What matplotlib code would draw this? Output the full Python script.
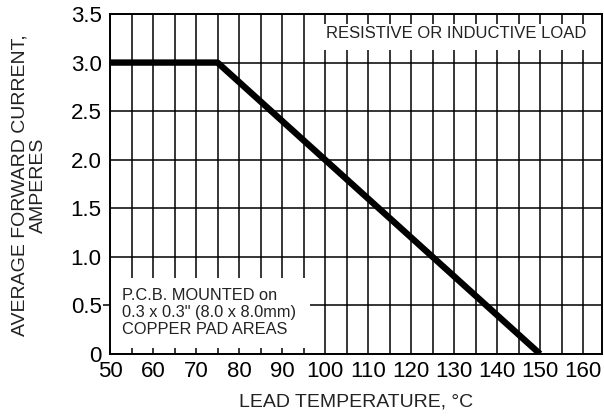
import matplotlib
matplotlib.use("Agg")
import matplotlib.pyplot as plt
from matplotlib.patches import Rectangle
from matplotlib.ticker import MultipleLocator, FixedLocator

plt.rcParams["font.family"] = ["Liberation Sans", "DejaVu Sans"]

# derating curve: lead temperature (°C) vs average forward current (A)
temp_c = [50, 75, 150]
current_a = [3.0, 3.0, 0.0]

x_ticks = [50, 60, 70, 80, 90, 100, 110, 120, 130, 140, 150, 160]
y_ticks = [0, 0.5, 1.0, 1.5, 2.0, 2.5, 3.0, 3.5]
y_tick_labels = ["0", "0.5", "1.0", "1.5", "2.0", "2.5", "3.0", "3.5"]
# the only tick mark drawn outside the frame in the original
y_outer_tick = [0.5]

fig = plt.figure(figsize=(6.04, 4.19), dpi=100)
ax = fig.add_axes([110 / 604, 65 / 419, 492 / 604, 340 / 419])

# x axis runs a little past the last labelled tick, like the datasheet
ax.set_xlim(50, 164.4)
ax.set_ylim(0, 3.5)
ax.set_xticks(x_ticks)
ax.xaxis.set_minor_locator(MultipleLocator(5))
ax.set_yticks(y_ticks)
ax.set_yticklabels(y_tick_labels)
ax.yaxis.set_minor_locator(FixedLocator(y_outer_tick))
ax.yaxis.remove_overlapping_locs = False

ax.set_axisbelow(True)
ax.grid(True, which="both", axis="x", color="black", linewidth=1.1)
ax.grid(True, which="major", axis="y", color="black", linewidth=1.1)
ax.tick_params(which="both", length=0, labelsize=16)
ax.tick_params(axis="x", pad=5)
ax.tick_params(axis="y", which="major", pad=6)
ax.tick_params(axis="y", which="minor", length=5, width=1.1, direction="out")
for sp in ax.spines.values():
    sp.set_linewidth(1.4)

# white label boxes that interrupt the grid
ax.add_patch(Rectangle((97, 3.13), 67.4, 0.27, facecolor="white", edgecolor="none", zorder=1))
ax.add_patch(Rectangle((50, 0.06), 46.5, 0.72, facecolor="white", edgecolor="none", zorder=1))

ax.plot(temp_c, current_a, color="black", linewidth=4.6, solid_capstyle="butt", zorder=2)

ax.text(130.5, 3.30, "RESISTIVE OR INDUCTIVE LOAD", ha="center", va="center",
        fontsize=12, color="#222222", zorder=3)
ax.text(52.8, 0.43, "P.C.B. MOUNTED on\n0.3 x 0.3\" (8.0 x 8.0mm)\nCOPPER PAD AREAS",
        ha="left", va="center", fontsize=11.8, color="#222222", linespacing=1.15, zorder=3)

ax.set_xlabel("LEAD TEMPERATURE, °C", fontsize=14, labelpad=8, color="#222222")
fig.text(29 / 604, 1 - 185 / 419, "AVERAGE FORWARD CURRENT,\nAMPERES", rotation=90,
         ha="center", va="center", multialignment="center", fontsize=14,
         linespacing=1.15, color="#222222")

fig.savefig("out.png", dpi=100)
